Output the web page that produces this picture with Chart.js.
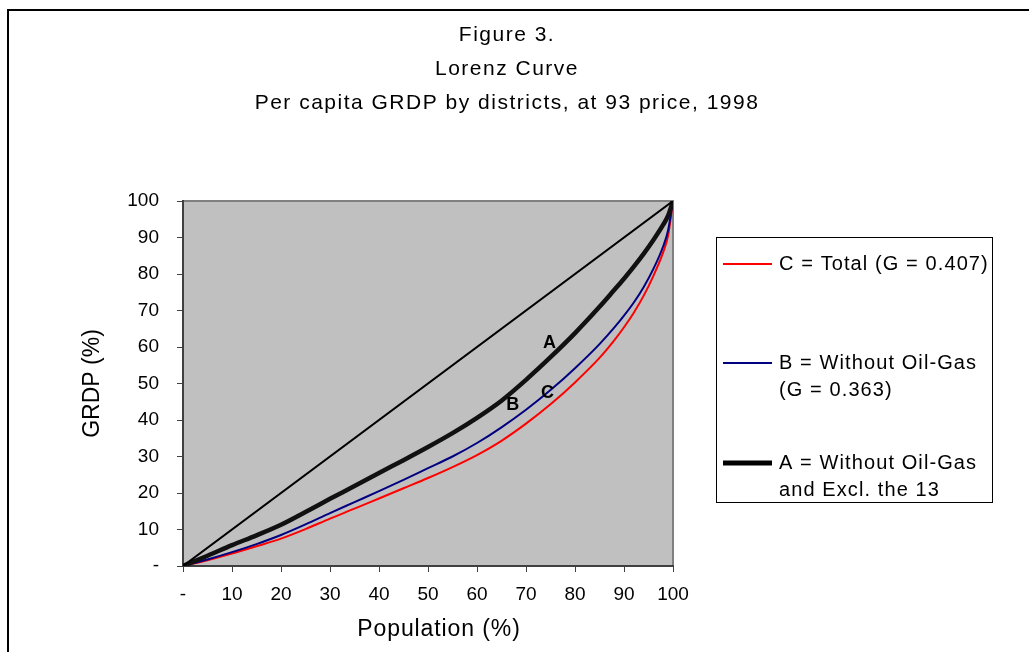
<!DOCTYPE html>
<html>
<head>
<meta charset="utf-8">
<script src="https://cdn.jsdelivr.net/npm/chart.js@4.4.1/dist/chart.umd.min.js"></script>
<style>
  html, body { margin: 0; padding: 0; background: #fff; }
  #wrap { position: relative; width: 1029px; height: 652px; }
</style>
</head>
<body>
<div id="wrap"><canvas id="myChart" width="1029" height="652"></canvas></div>
<script>
'use strict';
// cumulative population share (%)
let population = [0, 5, 10, 15, 20, 25, 30, 35, 40, 45, 50, 55, 60, 65, 70, 75, 80, 85, 88, 90, 92, 94, 96, 98, 99, 100];
// cumulative GRDP share (%)
let totalC = [0, 1.6, 3.4, 5.4, 7.5, 10.1, 13.0, 15.7, 18.5, 21.3, 24.1, 27.1, 30.4, 34.3, 39.0, 44.3, 50.3, 57.0, 61.8, 65.4, 69.4, 74.0, 79.5, 86.0, 90.5, 100];
let withoutOilGasB = [0, 1.8, 3.8, 6.0, 8.5, 11.4, 14.5, 17.5, 20.5, 23.6, 26.8, 30.0, 33.7, 38.0, 42.8, 48.2, 54.2, 60.8, 65.3, 68.6, 72.2, 76.4, 81.4, 87.6, 92.0, 100];
let exclThe13A = [0, 2.8, 5.7, 8.4, 11.3, 14.8, 18.4, 21.9, 25.5, 29.0, 32.6, 36.4, 40.6, 45.3, 51.0, 57.2, 63.8, 71.0, 75.6, 78.7, 82.0, 85.5, 89.3, 93.5, 96.0, 100];
let equalityX = [0, 100];
let equalityY = [0, 100];

let titleLines = ['Figure 3.', 'Lorenz Curve', 'Per capita GRDP by districts, at 93 price, 1998'];
let xTitle = 'Population (%)';
let yTitle = 'GRDP (%)';
let legendItems = [
  { lines: ['C = Total (G = 0.407)'], color: '#ff0000', width: 2 },
  { lines: ['B = Without Oil-Gas', '(G = 0.363)'], color: '#000080', width: 2 },
  { lines: ['A = Without Oil-Gas', 'and Excl. the 13'], color: '#000000', width: 5 }
];
let curveLabels = [
  { text: 'A', x: 74.8, y: 61 },
  { text: 'B', x: 67.3, y: 44.2 },
  { text: 'C', x: 74.4, y: 47.3 }
];

function toPoints(xs, ys) {
  let pts = [];
  for (let i = 0; i < xs.length; i++) {
    pts.push({ x: xs[i], y: ys[i] });
  }
  return pts;
}

let fontFamily = '"Liberation Sans", Arial, sans-serif';
Chart.defaults.font.family = fontFamily;
Chart.defaults.color = '#000';

let decorPlugin = {
  id: 'decor',
  beforeDraw(chart) {
    let ctx = chart.ctx;
    let a = chart.chartArea;
    ctx.save();
    ctx.fillStyle = '#fff';
    ctx.fillRect(0, 0, chart.width, chart.height);
    // outer frame
    ctx.strokeStyle = '#000';
    ctx.lineWidth = 2;
    ctx.beginPath();
    ctx.moveTo(8, chart.height + 5);
    ctx.lineTo(8, 10);
    ctx.lineTo(chart.width + 5, 10);
    ctx.stroke();
    // plot area
    ctx.fillStyle = '#c0c0c0';
    ctx.fillRect(a.left, a.top, a.right - a.left, a.bottom - a.top);
    ctx.strokeStyle = '#808080';
    ctx.lineWidth = 2;
    ctx.beginPath();
    ctx.moveTo(a.left, a.top);
    ctx.lineTo(a.right, a.top);
    ctx.lineTo(a.right, a.bottom);
    ctx.stroke();
    ctx.restore();
  },
  afterDraw(chart) {
    let ctx = chart.ctx;
    let xs = chart.scales.x;
    let ys = chart.scales.y;
    ctx.save();
    // title
    ctx.fillStyle = '#000';
    ctx.textAlign = 'center';
    ctx.textBaseline = 'middle';
    ctx.font = '21px ' + fontFamily;
    ctx.letterSpacing = '1.5px';
    for (let i = 0; i < titleLines.length; i++) {
      ctx.fillText(titleLines[i], 507, 35 + i * 34);
    }
    // x axis title
    ctx.font = '23px ' + fontFamily;
    ctx.letterSpacing = '0.9px';
    ctx.fillText(xTitle, 439, 630);
    // curve labels
    ctx.letterSpacing = '0px';
    ctx.font = 'bold 18px ' + fontFamily;
    curveLabels.forEach(function (l) {
      ctx.fillText(l.text, xs.getPixelForValue(l.x), ys.getPixelForValue(l.y));
    });
    // legend
    ctx.strokeStyle = '#000';
    ctx.lineWidth = 1;
    ctx.strokeRect(716.5, 237.5, 276, 265);
    ctx.font = '20px ' + fontFamily;
    ctx.letterSpacing = '1.1px';
    ctx.textAlign = 'left';
    let rowY = [264, 363, 463];
    legendItems.forEach(function (item, i) {
      ctx.strokeStyle = item.color;
      ctx.lineWidth = item.width;
      ctx.beginPath();
      ctx.moveTo(723, rowY[i]);
      ctx.lineTo(772, rowY[i]);
      ctx.stroke();
      item.lines.forEach(function (t, j) {
        ctx.fillText(t, 779, rowY[i] + j * 27);
      });
    });
    ctx.restore();
  }
};

let ctx = document.getElementById('myChart').getContext('2d');
let myChart = new Chart(ctx, {
  type: 'line',
  data: {
    datasets: [
      { label: 'Equality', data: toPoints(equalityX, equalityY), borderColor: '#000', borderWidth: 2, pointRadius: 0 },
      { label: 'A', data: toPoints(population, exclThe13A), borderColor: '#111', borderWidth: 4.5, pointRadius: 0, cubicInterpolationMode: 'monotone' },
      { label: 'B', data: toPoints(population, withoutOilGasB), borderColor: '#000080', borderWidth: 2, pointRadius: 0, cubicInterpolationMode: 'monotone' },
      { label: 'C', data: toPoints(population, totalC), borderColor: '#ff0000', borderWidth: 2, pointRadius: 0, cubicInterpolationMode: 'monotone' }
    ]
  },
  options: {
    responsive: false,
    animation: false,
    devicePixelRatio: 1,
    layout: { padding: { left: 79, right: 356, top: 201, bottom: 0 } },
    plugins: { legend: { display: false }, title: { display: false }, tooltip: { enabled: false } },
    scales: {
      x: {
        type: 'linear', min: 0, max: 100,
        ticks: { stepSize: 10, padding: 11, font: { size: 19 }, color: '#000',
          callback: function (v) { return v === 0 ? '-' : v; } },
        grid: { drawOnChartArea: false, tickLength: 6, color: '#404040', lineWidth: 1 },
        border: { color: '#404040', width: 2 },
        title: { display: false, text: xTitle },
        afterFit: function (scale) { scale.height = 86; }
      },
      y: {
        type: 'linear', min: 0, max: 100,
        ticks: { stepSize: 10, padding: 18, font: { size: 19 }, color: '#000',
          callback: function (v) { return v === 0 ? '-' : v; } },
        grid: { drawOnChartArea: false, tickLength: 6, color: '#404040', lineWidth: 1 },
        border: { color: '#404040', width: 2 },
        title: { display: true, text: yTitle, font: { size: 23 }, color: '#000', padding: { top: 0, bottom: 0 } },
        afterFit: function (scale) { scale.width = 104; }
      }
    }
  },
  plugins: [decorPlugin]
});
</script>
</body>
</html>
